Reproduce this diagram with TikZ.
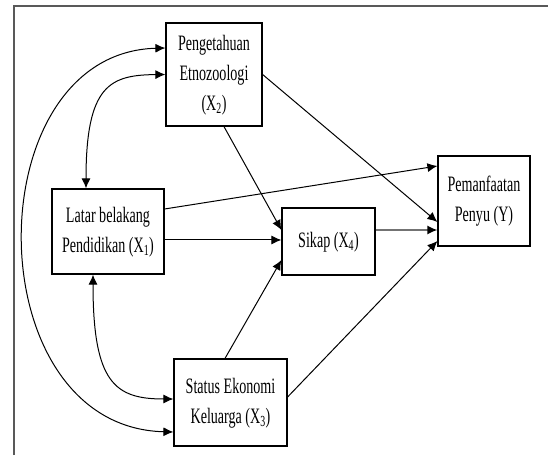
\documentclass[tikz,border=0pt]{standalone}
\usepackage{fontspec}
\setmainfont[FakeStretch=0.64]{Liberation Serif}
\usetikzlibrary{arrows.meta}
\newcommand{\rlines}[2]{\raisebox{#1}{\begin{tabular}{@{}c@{}}#2\end{tabular}}}
\begin{document}
\begin{tikzpicture}[x=1pt,y=1pt,
  box/.style={draw=black, line width=1.2pt, fill=white, align=center, inner sep=0pt, font=\fontsize{22}{30}\selectfont},
  conn/.style={line width=1pt, -{Latex[length=10pt,width=9pt,color=black]}},
  both/.style={line width=1pt, {Latex[length=10pt,width=9pt]}-{Latex[length=10pt,width=9pt]}}]
\useasboundingbox (0,0) rectangle (548,455);
\fill[white] (0,0) rectangle (548,455);
\draw[line width=1.5pt, black!65] (14,0) -- (14,449) -- (548,449);

\node[box, minimum width=96pt, minimum height=103pt] (x2) at (214,380.5) {\rlines{0pt}{Pengetahuan\\Etnozoologi\\(X\textsubscript{2})}};
\node[box, minimum width=112pt, minimum height=85pt] (x1) at (108,223.5) {\rlines{5pt}{Latar belakang\\Pendidikan (X\textsubscript{1})}};
\node[box, minimum width=93pt, minimum height=67pt] (x4) at (328.5,213.5) {\rlines{7pt}{Sikap (X\textsubscript{4})}};
\node[box, minimum width=92pt, minimum height=90pt] (y) at (484,254) {\rlines{7pt}{Pemanfaatan\\Penyu (Y)}};
\node[box, minimum width=113pt, minimum height=87pt] (x3) at (230.5,52.5) {\rlines{5pt}{Status Ekonomi\\Keluarga (X\textsubscript{3})}};

% correlations
\draw[both] ([xshift=-22pt]x1.north) .. controls (86,370) and (110,380) .. (x2.west);
\draw[both] ([yshift=26.5pt]x2.west) .. controls (-25,402) and (-25,28) .. ([yshift=-29.5pt]x3.west);
\draw[both] ([xshift=-15pt]x1.south) .. controls (93,72) and (115,56) .. ([yshift=3.5pt]x3.west);

% paths
\draw[conn] (x2.east) -- ([yshift=-21pt]y.west);
\draw[conn] ([xshift=10pt]x2.south) -- ([yshift=11.5pt]x4.west);
\draw[conn] ([yshift=22.5pt]x1.east) -- ([yshift=35pt]y.west);
\draw[conn] ([yshift=-8.5pt]x1.east) -- ([yshift=-8.5pt]x1.east -| x4.west);
\draw[conn, line width=1.4pt, draw=black!55] ([yshift=11.5pt]x4.east) -- ([yshift=11.5pt]x4.east -| y.west);
\draw[conn] ([xshift=-5.5pt]x3.north) -- ([yshift=-18.5pt]x4.west);
\draw[conn] ([yshift=5.5pt]x3.east) -- ([yshift=-40pt]y.west);
\end{tikzpicture}
\end{document}
